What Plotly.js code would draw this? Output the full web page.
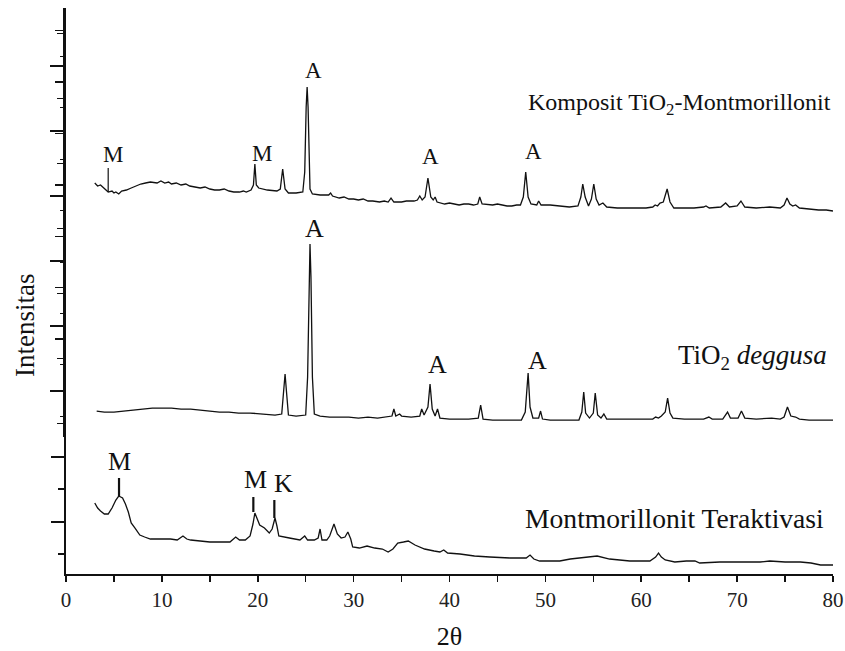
<!DOCTYPE html>
<html>
<head>
<meta charset="utf-8">
<script src="https://cdn.plot.ly/plotly-3.0.1.min.js"></script>
<style>html,body{margin:0;padding:0;background:#fff;}#chart{width:845px;height:651px;}</style>
</head>
<body>
<div id="chart"></div>
<script>
// ---- Data (2θ in degrees, intensity in arbitrary stacked units) ----
// Komposit TiO2-Montmorillonit (upper panel)
const kompX = [3.0,3.3,3.6,4.0,4.4,4.8,5.0,5.2,5.5,5.8,6.3,6.8,7.3,7.8,8.3,8.8,9.5,9.9,10.3,10.7,11.0,11.5,12.0,12.5,12.9,13.4,14.0,14.5,15.0,15.5,16.0,16.5,17.0,17.5,18.1,18.5,18.8,19.3,19.55,19.7,19.85,20.1,21.0,22.0,22.35,22.6,22.85,23.2,24.0,24.7,24.9,25.05,25.15,25.25,25.45,25.7,26.5,27.4,27.6,27.8,28.5,29.0,29.5,30.0,30.5,31.0,31.5,32.0,32.7,33.2,33.6,33.9,34.2,35.0,35.5,36.3,36.65,36.9,37.15,37.45,37.75,38.05,38.3,38.5,38.7,39.5,40.0,40.5,41.0,41.5,42.0,42.5,42.95,43.15,43.4,44.5,45.0,45.5,46.0,46.5,47.0,47.4,47.7,47.95,48.2,48.5,49.1,49.3,49.55,50.5,51.5,52.5,53.4,53.7,53.9,54.15,54.5,54.8,55.05,55.3,55.6,56.0,56.4,57.5,58.5,59.5,60.5,61.2,61.45,61.7,61.95,62.3,62.7,63.0,63.4,64.5,65.5,66.5,66.75,67.1,68.3,68.8,69.2,70.0,70.4,70.8,72.0,73.4,74.5,74.9,75.2,75.5,75.8,76.1,76.5,77.5,78.5,79.3,80.0];
const kompY = [254,251,252,248,245,246,244,245,243,246,247,249,251,253,254,255,254,256,254,255,253,254,252,253,251,250,249,250,248,247,247,248,246,245,245,246,245,247,252,273,252,249,247,246,248,268,248,244,244,245,265,330,350,330,248,243,242,242,244,241,239,240,238,238,237,238,236,236,235,236,235,239,235,235,236,236,237,241,237,240,259,240,237,240,235,233,234,233,232,233,233,232,233,240,233,232,233,232,231,231,232,232,240,265,240,233,232,236,232,232,231,230,231,240,253,240,231,238,253,238,232,234,230,229,229,229,229,230,232,231,234,235,248,235,229,229,229,230,231,229,230,234,230,231,236,230,229,230,229,232,239,233,231,232,229,228,227,227,226];

// TiO2 deggusa (middle)
const tioX = [3.2,4.0,5.0,6.0,7.0,8.0,9.0,10.0,11.0,12.0,13.0,14.0,15.0,16.0,17.0,18.0,19.2,20.5,21.8,22.5,22.7,22.85,23.0,23.2,24.0,25.0,25.2,25.35,25.45,25.55,25.7,25.9,26.5,27.5,28.5,29.5,30.5,31.5,32.5,33.5,34.0,34.2,34.4,34.8,35.0,36.0,36.9,37.1,37.35,37.75,37.97,38.2,38.5,38.75,39.0,40.0,41.0,42.0,43.0,43.25,43.5,44.5,45.5,46.5,47.5,47.9,48.05,48.2,48.4,48.7,49.3,49.5,49.7,50.5,51.5,52.5,53.5,53.8,54.0,54.2,54.6,55.0,55.2,55.45,55.8,56.1,56.4,57.5,58.5,59.5,60.5,61.2,61.5,61.8,62.1,62.5,62.75,63.0,63.3,64.5,65.5,66.5,67.05,67.4,68.5,69.0,69.3,70.1,70.45,70.8,72.0,73.6,74.5,74.9,75.25,75.6,76.1,76.5,77.5,78.5,80.0];
const tioY = [26,25,25,26,27,28,29,29,29,28,28,27,26,25,25,24,24,23,22,23,45,63,45,22,21,22,60,160,193,160,60,23,21,20,20,20,19,20,19,20,21,28,21,23,21,20,21,28,22,30,53,28,21,28,19,18,18,18,19,32,18,17,17,17,17,25,50,64,30,19,19,26,18,17,17,17,17,25,45,24,19,24,44,22,19,23,18,18,18,18,18,18,20,19,21,25,39,24,19,18,18,18,20,18,18,25,19,19,26,19,18,19,18,20,30,21,20,18,17,17,17];

// Montmorillonit Teraktivasi (lower panel)
const montX = [3.0,3.3,3.6,4.0,4.4,4.8,5.2,5.5,5.9,6.2,6.5,6.8,7.2,7.7,8.2,8.8,9.3,10.0,10.9,11.6,12.2,12.6,13.0,14.0,15.0,16.0,17.1,17.7,18.1,18.7,19.2,19.5,19.7,19.95,20.2,20.7,21.2,21.5,21.8,22.0,22.2,23.3,23.8,24.4,24.9,25.2,25.9,26.3,26.5,26.7,27.2,27.5,27.95,28.3,28.7,29.1,29.4,29.7,29.9,30.6,31.4,32.2,33.0,33.6,34.1,34.6,35.2,35.7,36.4,37.4,38.4,39.0,39.4,39.8,41.1,42.6,44.2,46.3,48.0,48.4,48.8,49.4,50.5,51.5,52.6,54.1,55.4,56.7,58.8,60.9,61.5,61.8,62.1,62.5,63.5,64.7,65.6,66.1,68.2,70.0,72.4,73.4,75.0,76.6,77.7,78.7,80.0];
const montY = [71,66,63,60,60,66,74,78,76,70,62,51,46,39,37,35,35,35,35,34,38,35,34,33,32,32,32,37,34,34,38,50,61,55,49,46,41,45,56,48,38,36,35,34,38,34,34,36,45,34,34,38,50,40,36,37,42,35,27,26,28,26,25,22,25,31,32,33,29,25,23,22,24,21,20,18,17,16,16,19,15,13,13,13,15,17,18,15,13,13,17,21,17,14,12,13,13,11,12,12,12,13,12,12,11,9,9];

// Phase labels (M = montmorillonit, A = anatase, K = kuarsa)
const topLabels = ['M','M','A','A','A'];
const topLabelX = [4.9,20.4,25.8,38.0,48.8];
const midLabels = ['A','A','A'];
const midLabelX = [25.9,38.7,49.2];
const botLabels = ['M','M','K'];
const botLabelX = [5.6,19.8,22.7];
const markerLinesTopX = [4.4];
const markerLinesBotX = [5.53,19.54,21.73];

const seriesNames = ['Komposit TiO<sub>2</sub>-Montmorillonit','TiO<sub>2</sub> <i>deggusa</i>','Montmorillonit Teraktivasi'];
const xTickVals = [0,10,20,30,40,50,60,70,80];

const FONT = 'Liberation Serif, Times New Roman, serif';
const lineStyle = {color:'#111', width:1.3};

const traces = [
  {x:kompX, y:kompY, type:'scatter', mode:'lines', line:lineStyle, xaxis:'x', yaxis:'y2', name:'Komposit'},
  {x:tioX, y:tioY, type:'scatter', mode:'lines', line:lineStyle, xaxis:'x', yaxis:'y2', name:'TiO2'},
  {x:montX, y:montY, type:'scatter', mode:'lines', line:lineStyle, xaxis:'x', yaxis:'y', name:'Mont'},
  {x:[], y:[], type:'scatter', mode:'lines', xaxis:'x', yaxis:'y3', showlegend:false}
];

const ann = [];
const topLabY = [283,284,367,281,286];
topLabels.forEach((t,i)=>ann.push({x:topLabelX[i], y:topLabY[i], xref:'x', yref:'y2', xanchor:'center', yanchor:'middle', text:t, showarrow:false, font:{family:FONT,size:23,color:'#111'}}));
const midLabY = [209,73,77];
midLabels.forEach((t,i)=>ann.push({x:midLabelX[i], y:midLabY[i], xref:'x', yref:'y2', xanchor:'center', yanchor:'middle', text:t, showarrow:false, font:{family:FONT,size:26,color:'#111'}}));
const botLabY = [113,95,91];
botLabels.forEach((t,i)=>ann.push({x:botLabelX[i], y:botLabY[i], xref:'x', yref:'y', xanchor:'center', yanchor:'middle', text:t, showarrow:false, font:{family:FONT,size:26,color:'#111'}}));

ann.push({x:80, y:333, xref:'x', yref:'y2', xanchor:'right', yanchor:'middle', text:seriesNames[0], showarrow:false, font:{family:FONT,size:24,color:'#111'}});
ann.push({x:79.6, y:80, xref:'x', yref:'y2', xanchor:'right', yanchor:'middle', text:seriesNames[1], showarrow:false, font:{family:FONT,size:27,color:'#111'}});
ann.push({x:79.3, y:56, xref:'x', yref:'y', xanchor:'right', yanchor:'middle', text:seriesNames[2], showarrow:false, font:{family:FONT,size:27.6,color:'#111'}});
ann.push({x:-0.0535, y:0.44, xref:'paper', yref:'paper', xanchor:'center', yanchor:'middle', text:'Intensitas', textangle:-90, showarrow:false, font:{family:FONT,size:27,color:'#111'}});

const shapes = [];
const topLineY = [[245,269]];
markerLinesTopX.forEach((xv,i)=>shapes.push({type:'line', xref:'x', yref:'y2', x0:xv, x1:xv, y0:topLineY[i][0], y1:topLineY[i][1], line:{color:'#111', width:1.2}}));
const botLineY = [[78,96],[62,77],[56,74]];
markerLinesBotX.forEach((xv,i)=>shapes.push({type:'line', xref:'x', yref:'y', x0:xv, x1:xv, y0:botLineY[i][0], y1:botLineY[i][1], line:{color:'#111', width:2.2}}));

const layout = {
  width:845, height:651,
  margin:{l:66, r:12, t:8, b:77},
  paper_bgcolor:'#fff', plot_bgcolor:'#fff',
  showlegend:false,
  xaxis:{range:[0,80], anchor:'y', showline:true, linecolor:'#111', linewidth:1.8, mirror:false,
         showgrid:false, zeroline:false, ticks:'outside', ticklen:6, tickwidth:1.6, tickcolor:'#111',
         tickmode:'array', tickvals:xTickVals,
         minor:{dtick:5, tick0:0, ticks:'outside', ticklen:6, tickwidth:1.6, tickcolor:'#111', showgrid:false},
         tickfont:{family:FONT, size:21, color:'#222'},
         title:{text:'2θ', font:{family:FONT, size:26, color:'#111'}, standoff:18}},
  yaxis:{domain:[0,0.242], range:[0,137], anchor:'x', showline:true, linecolor:'#111', linewidth:1.8,
         showgrid:false, zeroline:false, showticklabels:false,
         ticks:'outside', ticklen:13, tickwidth:1.6, tickcolor:'#111', tick0:52, dtick:65,
         minor:{tick0:20, dtick:32.5, ticks:'outside', ticklen:6, tickwidth:1.6, tickcolor:'#111', showgrid:false}},
  yaxis2:{domain:[0.242,1], range:[0,429], anchor:'x', showline:true, linecolor:'#111', linewidth:3.4,
         showgrid:false, zeroline:false, showticklabels:false,
         ticks:'outside', ticklen:13, tickwidth:1.8, tickcolor:'#111', tick0:46, dtick:65,
         minor:{tick0:13.5, dtick:32.5, ticks:'outside', ticklen:6, tickwidth:1.4, tickcolor:'#111', showgrid:false}},
  yaxis3:{overlaying:'y2', anchor:'x', side:'left', range:[0,429], showline:false,
         showgrid:false, zeroline:false, showticklabels:false,
         ticks:'outside', ticklen:10, tickwidth:1.5, tickcolor:'#111', tick0:46.5, dtick:51.4,
         minor:{tick0:20.8, dtick:25.7, ticks:'outside', ticklen:5, tickwidth:1.3, tickcolor:'#111', showgrid:false}},
  annotations:ann,
  shapes:shapes
};

Plotly.newPlot('chart', traces, layout, {staticPlot:true, displayModeBar:false});
</script>
</body>
</html>
